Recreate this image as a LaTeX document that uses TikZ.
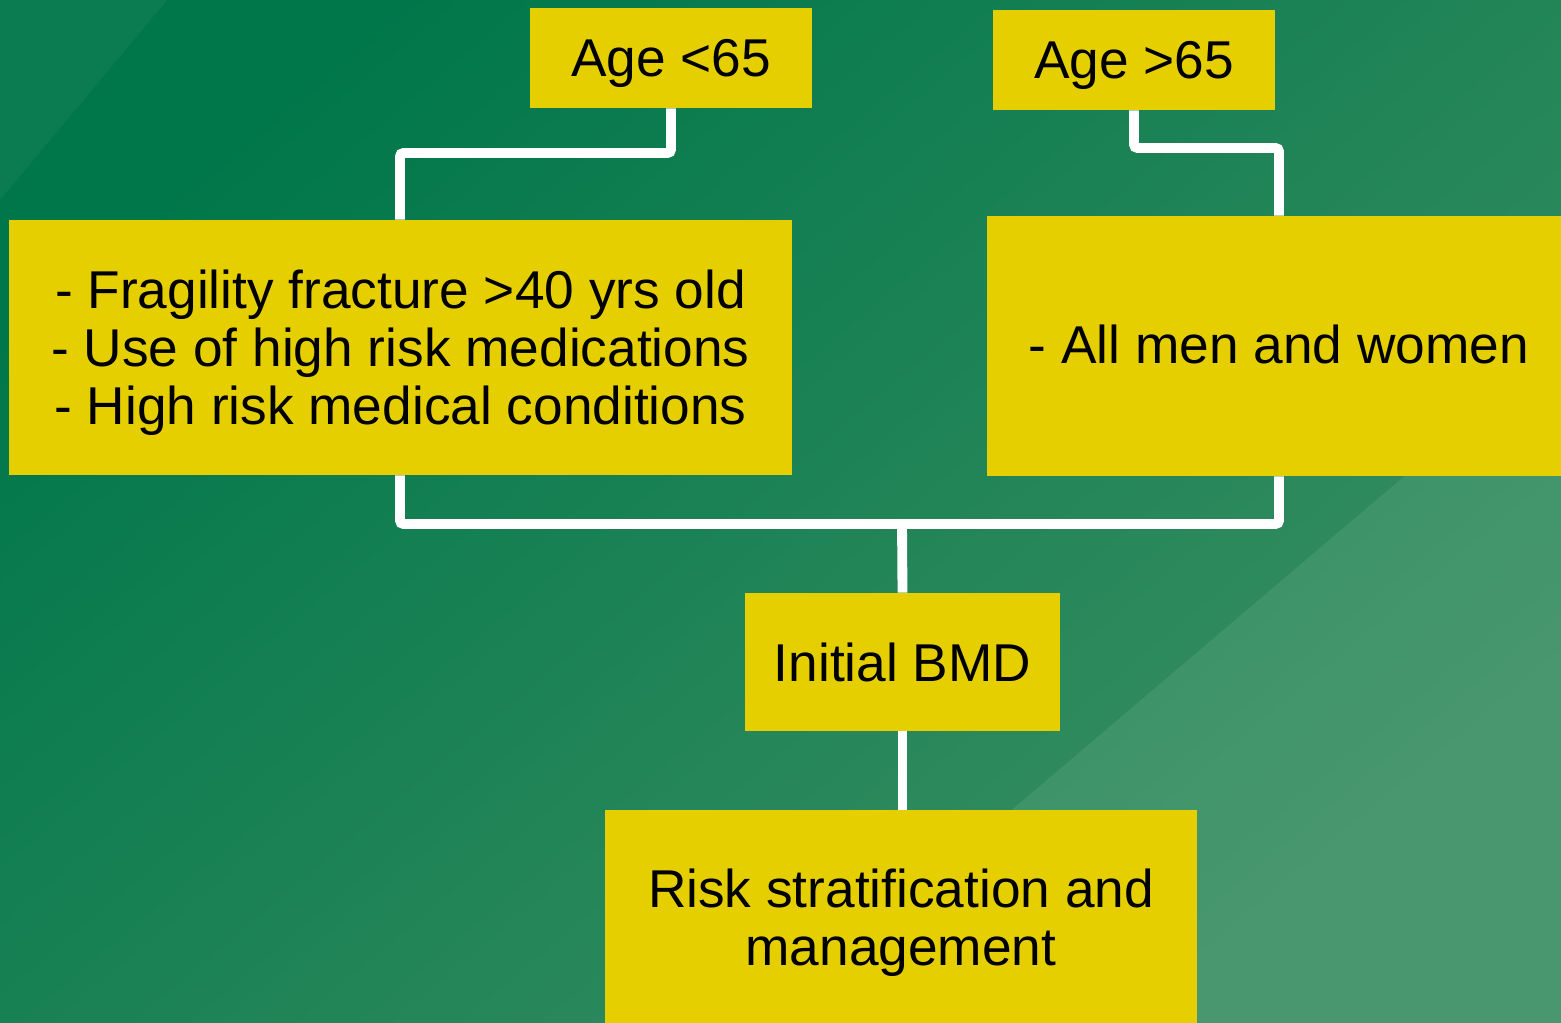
\documentclass[tikz,border=0pt]{standalone}
\usepackage{fontspec}
\setmainfont{Liberation Sans}
\definecolor{boxyellow}{HTML}{E6CF00}
\definecolor{bgdark}{HTML}{00774A}
\definecolor{bglight}{HTML}{3A8F62}
\begin{document}
\begin{tikzpicture}[x=0.02cm,y=-0.02cm,
  box/.style={fill=boxyellow,draw=none,inner sep=0pt,align=center,text=black,
    font=\fontsize{30.3}{33}\selectfont},
  lowtext/.style={text depth=0pt},
  link/.style={draw=white,line width=5.6pt,rounded corners=2pt}]
\useasboundingbox (0,0) rectangle (1561,1023);
\clip (0,0) rectangle (1561,1023);
% background
\shade[top color=bgdark,bottom color=bglight,shading angle=40] (0,0) rectangle (1561,1023);
\fill[white,opacity=0.045] (0,0) -- (167,0) -- (0,200) -- cycle;
\fill[white,opacity=0.08] (761,1023) -- (1561,343) -- (1561,1023) -- cycle;
% nodes
\node[box,lowtext,minimum width=282*0.02cm,minimum height=100*0.02cm] (a1) at (671,58) {Age <65};
\node[box,lowtext,minimum width=282*0.02cm,minimum height=100*0.02cm] (a2) at (1134,60) {Age >65};
\node[box,lowtext,minimum width=783*0.02cm,minimum height=255*0.02cm] (l) at (400.5,347.5)
  {- Fragility fracture >40 yrs old\\- Use of high risk medications\\- High risk medical conditions};
\node[box,text depth=2pt,minimum width=584*0.02cm,minimum height=260*0.02cm] (r) at (1279,346) {- All men and women};
\node[box,minimum width=315*0.02cm,minimum height=138*0.02cm] (b) at (902.5,662) {Initial BMD};
\node[box,minimum width=592*0.02cm,minimum height=226*0.02cm] (k) at (901,923)
  {Risk stratification and\\management};
% connectors
\coordinate (j) at (902,524);
\draw[link] (a1.south) -- (671,153) -- (400,153) -- (l.north -| 400,0);
\draw[link] (a2.south) -- (1134,148) -- (1279,148) -- (r.north);
\draw[link] (l.south -| 400,0) -- (400,524) -- (1279,524) -- (r.south);
\draw[link] (j) -- (b.north);
\draw[link] (b.south) -- (k.north -| b.south);
\end{tikzpicture}
\end{document}
